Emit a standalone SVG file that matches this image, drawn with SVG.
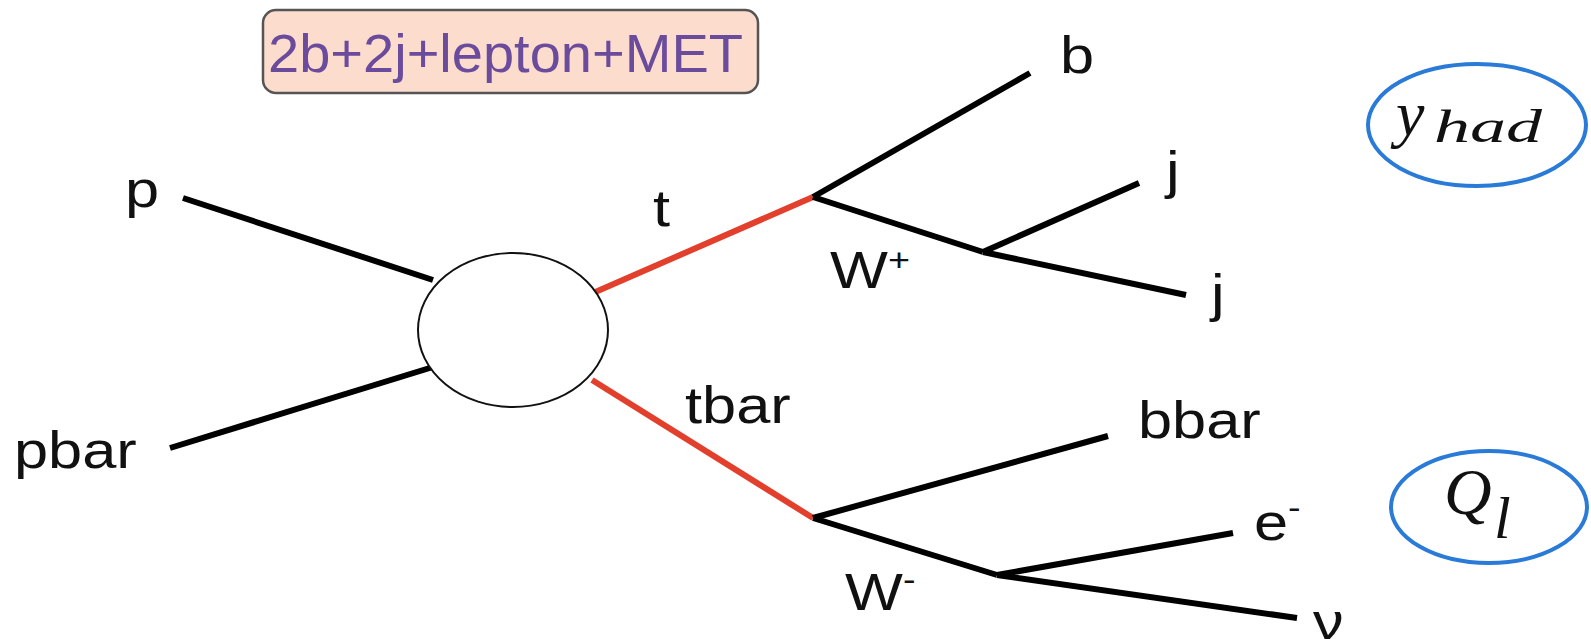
<svg xmlns="http://www.w3.org/2000/svg" width="1591" height="639" viewBox="0 0 1591 639">
  <style>
    .lbl { font-family: "Liberation Sans", Arial, sans-serif; font-size: 52px; fill: #111; }
    .sup { font-size: 32px; }
    .math { font-family: "Liberation Serif", "DejaVu Serif", serif; font-style: italic; fill: #111; }
    .leg { stroke: #000; stroke-width: 6; stroke-linecap: butt; fill: none; }
    .top { stroke: #e2402c; stroke-width: 6; stroke-linecap: butt; fill: none; }
    .tag { fill: none; stroke: #2a7ad8; stroke-width: 4; }
  </style>
  <rect width="1591" height="639" fill="#ffffff"/>

  <!-- final-state banner -->
  <g id="banner">
    <rect x="263" y="10" width="495" height="83" rx="13" ry="13" fill="#fbdccd" stroke="#555" stroke-width="2.5"/>
    <text x="268" y="72" font-family="Liberation Sans, Arial, sans-serif" font-size="54" fill="#6a4b9c" textLength="475" lengthAdjust="spacingAndGlyphs">2b+2j+lepton+MET</text>
  </g>

  <!-- propagators and external legs -->
  <g id="connectors">
    <line class="leg" x1="183" y1="198" x2="433" y2="280"/>
    <line class="leg" x1="170" y1="448" x2="433" y2="367"/>
    <line class="top" x1="593" y1="293" x2="813" y2="197"/>
    <line class="top" x1="592" y1="380" x2="813" y2="518"/>
    <line class="leg" x1="813" y1="197" x2="1030" y2="73"/>
    <line class="leg" x1="813" y1="197" x2="983" y2="252"/>
    <line class="leg" x1="983" y1="252" x2="1139" y2="183"/>
    <line class="leg" x1="983" y1="252" x2="1186" y2="295"/>
    <line class="leg" x1="813" y1="518" x2="1108" y2="436"/>
    <line class="leg" x1="813" y1="518" x2="997" y2="575"/>
    <line class="leg" x1="997" y1="575" x2="1233" y2="533"/>
    <line class="leg" x1="997" y1="575" x2="1297" y2="618"/>
  </g>

  <!-- hard-scattering blob -->
  <g id="blob">
    <ellipse cx="513" cy="330" rx="95" ry="77" fill="#fff" stroke="#111" stroke-width="2"/>
  </g>

  <!-- particle labels (set slightly wide) -->
  <g id="label-p" transform="translate(125 207) scale(1.18 1)"><text class="lbl">p</text></g>
  <g id="label-pbar" transform="translate(14 468) scale(1.18 1)"><text class="lbl">pbar</text></g>
  <g id="label-t" transform="translate(653 226) scale(1.18 1)"><text class="lbl">t</text></g>
  <g id="label-tbar" transform="translate(685 423) scale(1.18 1)"><text class="lbl">tbar</text></g>
  <g id="label-Wplus" transform="translate(830 288) scale(1.18 1)"><text class="lbl">W<tspan class="sup" dy="-17">+</tspan></text></g>
  <g id="label-Wminus" transform="translate(845 610) scale(1.18 1)"><text class="lbl">W<tspan class="sup" dy="-20">-</tspan></text></g>
  <g id="label-b" transform="translate(1060 73) scale(1.18 1)"><text class="lbl">b</text></g>
  <g id="label-j1" transform="translate(1166 188) scale(1.18 1)"><text class="lbl">j</text></g>
  <g id="label-j2" transform="translate(1211 311) scale(1.18 1)"><text class="lbl">j</text></g>
  <g id="label-bbar" transform="translate(1138 438) scale(1.18 1)"><text class="lbl">bbar</text></g>
  <g id="label-e" transform="translate(1254 540) scale(1.18 1)"><text class="lbl">e<tspan class="sup" dy="-22">-</tspan></text></g>
  <g id="label-nu" transform="translate(1313 639) scale(1.18 1)"><text class="lbl">ν</text></g>

  <!-- observables -->
  <g id="obs-yhad">
    <ellipse class="tag" cx="1477" cy="125" rx="109" ry="61"/>
    <text class="math" x="1396" y="135" font-size="64">y</text>
    <text class="math" x="1434" y="142" font-size="46" textLength="108" lengthAdjust="spacingAndGlyphs">had</text>
  </g>
  <g id="obs-Ql">
    <ellipse class="tag" cx="1489" cy="507" rx="98" ry="56"/>
    <text class="math" x="1444" y="514" font-size="66">Q</text>
    <text class="math" x="1494" y="538" font-size="60">l</text>
  </g>
</svg>
